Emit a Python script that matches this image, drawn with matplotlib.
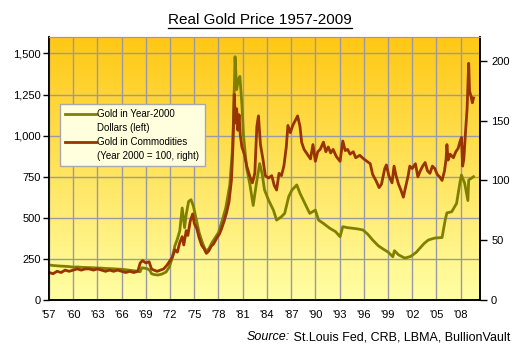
import numpy as np
import matplotlib
matplotlib.use("Agg")
import matplotlib.pyplot as plt
from matplotlib.lines import Line2D

plt.rcParams['font.family'] = ['Liberation Sans', 'DejaVu Sans']

# Gold in year-2000 dollars (left axis)
real_years = [1957.0, 1957.5, 1958.0, 1958.5, 1959.0, 1959.5, 1960.0, 1960.5, 1961.0, 1961.5,
              1962.0, 1962.5, 1963.0, 1963.5, 1964.0, 1964.5, 1965.0, 1965.5, 1966.0, 1966.5,
              1967.0, 1967.5, 1968.0, 1968.3, 1968.5, 1968.8, 1969.2, 1969.5, 1969.7, 1970.0,
              1970.5, 1971.0, 1971.5, 1971.9, 1972.2, 1972.6, 1972.9, 1973.2, 1973.5, 1973.8,
              1974.0, 1974.3, 1974.6, 1974.9, 1975.2, 1975.6, 1976.0, 1976.4, 1976.8, 1977.2,
              1977.6, 1978.0, 1978.5, 1978.9, 1979.4, 1979.7, 1979.85, 1980.05, 1980.25, 1980.45,
              1980.65, 1980.9, 1981.1, 1981.5, 1981.9, 1982.3, 1982.7, 1983.1, 1983.4, 1983.7,
              1984.2, 1984.8, 1985.2, 1985.8, 1986.2, 1986.7, 1987.1, 1987.7, 1988.1, 1988.7,
              1989.3, 1990.0, 1990.4, 1991.0, 1991.8, 1992.5, 1993.06, 1993.4, 1994.0, 1994.7,
              1995.3, 1995.9, 1996.5, 1997.1, 1997.8, 1998.4, 1999.0, 1999.6, 1999.8, 2000.3,
              2000.8, 2001.1, 2001.8, 2002.5, 2003.0, 2003.5, 2004.0, 2004.8, 2005.7, 2006.1,
              2006.3, 2006.9, 2007.5, 2007.9, 2008.1, 2008.5, 2008.9, 2009.0, 2009.6]
real_vals = [213, 210, 208, 206, 205, 203, 200, 201, 199, 198,
             197, 196, 195, 194, 192, 191, 190, 188, 187, 184,
             181, 178, 175, 172, 196, 194, 190, 180, 160, 155,
             152, 158, 170, 200, 245, 330, 370, 420, 560, 440,
             520, 600, 610, 570, 500, 410, 350, 300, 310, 350,
             380, 410, 490, 560, 700, 900, 1080, 1480, 1280, 1340,
             1360, 1190, 1000, 800, 700, 575, 710, 830, 770, 670,
             608, 547, 486, 507, 527, 629, 669, 700, 649, 588,
             527, 547, 486, 466, 436, 416, 385, 446, 440, 436,
             432, 426, 400, 365, 330, 310, 292, 263, 300, 275,
             262, 255, 265, 290, 318, 345, 365, 377, 380, 490,
             530, 537, 588, 710, 760, 710, 605, 730, 750]

# Gold in commodities, year 2000 = 100 (right axis)
comm_years = [1957.0, 1957.5, 1958.0, 1958.5, 1959.0, 1959.5, 1960.0, 1960.5, 1961.0, 1961.5,
              1962.0, 1962.5, 1963.0, 1963.5, 1964.0, 1964.5, 1965.0, 1965.5, 1966.0, 1966.5,
              1967.0, 1967.5, 1968.0, 1968.3, 1968.6, 1969.0, 1969.4, 1969.7, 1970.0, 1970.4,
              1970.8, 1971.2, 1971.6, 1972.0, 1972.3, 1972.6, 1972.9, 1973.2, 1973.5, 1973.7,
              1974.0, 1974.2, 1974.5, 1974.8, 1975.0, 1975.3, 1975.6, 1975.9, 1976.2, 1976.5,
              1976.8, 1977.1, 1977.4, 1977.8, 1978.1, 1978.4, 1978.7, 1979.0, 1979.3, 1979.6,
              1979.8, 1979.95, 1980.1, 1980.25, 1980.4, 1980.55, 1980.7, 1980.9, 1981.2, 1981.5,
              1981.9, 1982.2, 1982.5, 1982.75, 1982.95, 1983.2, 1983.5, 1983.8, 1984.2, 1984.6,
              1984.9, 1985.2, 1985.5, 1985.8, 1986.1, 1986.4, 1986.6, 1986.9, 1987.2, 1987.5,
              1987.8, 1988.1, 1988.3, 1988.6, 1989.0, 1989.4, 1989.7, 1990.0, 1990.3, 1990.6,
              1991.0, 1991.3, 1991.6, 1991.9, 1992.2, 1992.6, 1993.06, 1993.4, 1993.7, 1994.0,
              1994.3, 1994.7, 1995.0, 1995.5, 1996.0, 1996.4, 1996.8, 1997.1, 1997.5, 1997.9,
              1998.2, 1998.6, 1998.8, 1999.1, 1999.5, 1999.75, 2000.0, 2000.3, 2000.6, 2000.9,
              2001.2, 2001.5, 2001.7, 2002.0, 2002.4, 2002.7, 2003.0, 2003.3, 2003.6, 2003.9,
              2004.2, 2004.5, 2004.8, 2005.1, 2005.4, 2005.7, 2006.0, 2006.2, 2006.3, 2006.45,
              2006.7, 2007.1, 2007.4, 2007.7, 2007.9, 2008.1, 2008.25, 2008.4, 2008.6, 2008.8,
              2008.9, 2009.0, 2009.1, 2009.3, 2009.45, 2009.6]
comm_vals = [23, 22, 24, 23, 25, 24, 25, 26, 25, 26,
             26, 25, 26, 25, 24, 25, 24, 25, 24, 23,
             24, 23, 24, 31, 33, 31, 32, 26, 25, 24,
             25, 26, 29, 33, 36, 42, 40, 48, 53, 46,
             58, 54, 66, 72, 64, 60, 52, 46, 43, 39,
             41, 45, 47, 52, 55, 60, 66, 73, 82, 100,
             130, 172, 148, 160, 142, 155, 138, 128, 122, 112,
             103, 98, 106, 145, 154, 130, 118, 104, 102, 104,
             96, 92, 106, 104, 112, 128, 146, 140, 146, 150,
             154, 145, 132, 126, 122, 118, 130, 116, 124, 126,
             132, 124, 128, 123, 126, 120, 116, 133, 125, 126,
             122, 124, 119, 121, 118, 116, 114, 105, 100, 94,
             97, 110, 113, 104, 98, 112, 104, 97, 92, 86,
             95, 104, 112, 110, 114, 103, 108, 112, 115, 108,
             106, 112, 110, 105, 103, 100, 108, 118, 130, 117,
             122, 119, 124, 127, 132, 136, 112, 118, 140, 160,
             178, 198, 175, 170, 165, 169]

left_ticks = [0, 250, 500, 750, 1000, 1250, 1500]
right_ticks = [0, 50, 100, 150, 200]
year_ticks = list(range(1957, 2009, 3))
year_labels = ["'%02d" % (y % 100) for y in year_ticks]

olive = '#808000'
brown = '#993300'

fig = plt.figure(figsize=(5.22, 3.53), dpi=100)
ax = fig.add_axes([49 / 522, 53 / 353, 431 / 522, 263 / 353])

# yellow gradient background
grad = np.linspace(0, 1, 256).reshape(-1, 1)
top = np.array([255, 200, 20]) / 255
bottom = np.array([255, 255, 165]) / 255
img = top[None, None, :] * (1 - grad[:, :, None]) + bottom[None, None, :] * grad[:, :, None]
ax.imshow(img, extent=[0, 1, 0, 1], transform=ax.transAxes, aspect='auto', zorder=0)

ax.plot(real_years, real_vals, color=olive, linewidth=2.0, zorder=3)
ax.set_xlim(1957, 2010.4)
ax.set_ylim(0, 1600)
ax.set_yticks(left_ticks)
ax.set_yticklabels([f'{v:,}' for v in left_ticks])
ax.set_xticks(year_ticks)
ax.set_xticklabels(year_labels)
ax.grid(True, color='#9a9aa6', linewidth=1.0, zorder=1)
ax.set_axisbelow(False)
for gl in ax.get_xgridlines() + ax.get_ygridlines():
    gl.set_zorder(1)
ax.tick_params(axis='x', length=0, pad=7, labelsize=8)
ax.tick_params(axis='y', length=4, width=1, pad=2, labelsize=8, direction='out')

ax2 = ax.twinx()
ax2.plot(comm_years, comm_vals, color=brown, linewidth=2.0)
ax2.set_ylim(0, 220)
ax2.set_yticks(right_ticks)
ax2.tick_params(axis='y', length=5, width=1, pad=3, labelsize=8, direction='out')

for a in (ax, ax2):
    a.spines['top'].set_color('#9a9aa6')
    a.spines['left'].set_linewidth(1.2)
    a.spines['right'].set_linewidth(1.2)
    a.spines['bottom'].set_linewidth(1.2)

handles = [Line2D([], [], color=olive, linewidth=2.0),
           Line2D([], [], color='none'),
           Line2D([], [], color=brown, linewidth=2.0),
           Line2D([], [], color='none')]
labels = ['Gold in Year-2000', 'Dollars (left)', 'Gold in Commodities',
          '(Year 2000 = 100, right)']
leg = ax2.legend(handles, labels, loc='upper left', bbox_to_anchor=(60 / 522, 1 - 104 / 353),
                 bbox_transform=fig.transFigure, fontsize=7, frameon=True, fancybox=False,
                 framealpha=1, facecolor='#ffffdd', edgecolor='#a8a8b0', handlelength=3.2,
                 handletextpad=0.1, labelspacing=0.4, borderpad=0.55, borderaxespad=0)
leg.get_frame().set_linewidth(1.0)

title = fig.text(260 / 522, 1 - 20 / 353, 'Real Gold Price 1957-2009', ha='center', va='center',
                 fontsize=11)

src = fig.text(510 / 522, 1 - 337 / 353, ' St.Louis Fed, CRB, LBMA, BullionVault', ha='right',
               va='center', fontsize=9)
ax.annotate('Source:', xy=(0, 0.5), xycoords=src, ha='right', va='center', fontsize=9,
            style='italic', annotation_clip=False)

# underline the title
fig.canvas.draw()
bb = title.get_window_extent().transformed(fig.transFigure.inverted())
fig.add_artist(Line2D([bb.x0, bb.x1], [bb.y0 - 0.003, bb.y0 - 0.003], color='black',
                      linewidth=0.9, transform=fig.transFigure))

fig.savefig('out.png', dpi=100)
